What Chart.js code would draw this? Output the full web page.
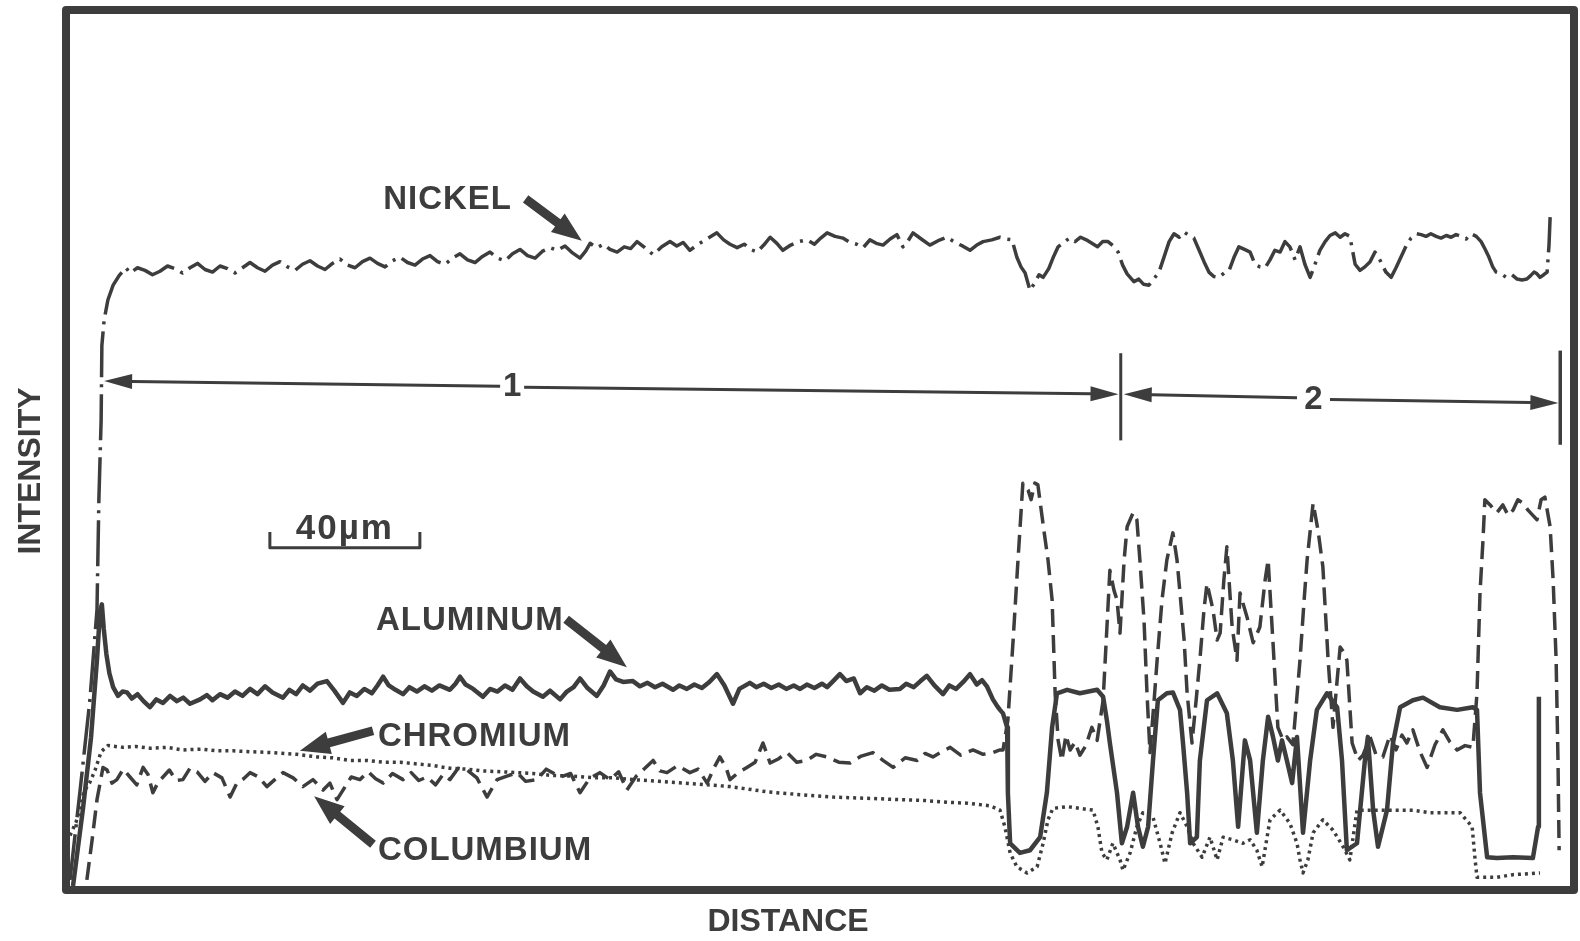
<!DOCTYPE html>
<html>
<head>
<meta charset="utf-8">
<script src="https://cdn.jsdelivr.net/npm/chart.js@4/dist/chart.umd.min.js"></script>
<style>
  html, body { margin: 0; padding: 0; background: #ffffff; }
  #wrap { width: 1580px; height: 941px; }
</style>
</head>
<body>
<div id="wrap"><canvas id="c" width="1580" height="941"></canvas></div>
<script>
// Electron-microprobe line scan across the coating: distance in µm, intensity in relative units.

const nickelX = [0, 2.7, 5.3, 7.2, 7.7, 8.3, 8.5, 9.1, 10.1, 11.5, 13.1, 14.9,
  16, 18, 20, 22, 24, 26, 28, 30, 32, 34, 36, 38, 40, 42, 44, 46, 48, 50, 52, 54, 56, 58, 60,
  62, 64, 66, 68, 70, 72, 74, 76, 78, 80, 82, 84, 86, 88, 90, 92, 94, 96, 98, 100,
  102, 104, 106, 108, 110, 112, 114, 116, 118, 120, 122, 124, 126, 128,
  129.9, 132, 134, 136, 137.5, 138.7, 140.5, 142.3, 144, 145.9, 147.8, 149.5, 151.2, 153.3, 155.5,
  157.8, 160, 161.8, 163.5, 165.3, 167.5, 169.8, 172.5, 174.3, 176, 177.9, 179.8, 181.5, 183.2,
  185, 186.7, 188.5, 190.1, 192.2, 194.3, 196.5, 198.5, 200.2, 201.9, 204, 206.1, 208, 209.8,
  211.5, 213.3, 215, 216.8, 218.7, 220.5, 222.1, 223.5, 224.8, 227, 229.3, 231.5, 233.9, 236,
  238, 240, 241.8, 243.5, 245.8, 248, 249.6, 251.2, 252.5, 253.6, 254.7, 256, 257.3, 258.4,
  259.5, 261, 262.3, 263.5, 265, 266.5, 268, 269.5, 271, 272.5, 274, 275.4, 276.8, 278.2,
  279.5, 280.7, 281.9, 283.7, 285, 286.3, 287.7, 289, 290.4, 291.8, 293.1, 294.4, 295.8,
  297.1, 298.4, 299.7, 301.1, 302.4, 303.7, 305, 306.4, 307.8, 309.1, 310.4, 311.7, 313.2,
  314.7, 316, 317.3, 318.7, 320, 321.3, 322.7, 324, 325.3, 326.7, 328, 329.3, 330.7, 332,
  333.3, 334.7, 336, 337.4, 338.7, 340, 341.3, 342.7, 344, 345.3, 346.7, 348, 349.3, 350.9,
  352.3, 353.6, 354.9, 356.3, 357.6, 359, 360.3, 361.6, 362.9, 364.3, 365.6, 367, 368.3,
  369.6, 370.9, 372.3, 373.6, 375, 376.3, 377.4, 378.4, 379.4, 380.3, 381.6, 383, 384.5,
  385.9, 387.2, 388.5, 389.5, 390.4, 391.2, 392, 393, 393.9, 394.4, 394.7];
const nickelY = [0.7, 11.0, 21.3, 31.7, 44.3, 53.4, 62.0, 64.9, 67.2, 68.9, 70.0, 70.9,
  70.3, 70.9, 70.6, 70.1, 70.5, 71.1, 70.8, 70.3, 70.9, 71.4, 70.7, 70.4, 71.1, 70.8, 70.3, 70.9, 71.5, 70.9, 70.5, 71.2, 71.6, 71.0, 70.6,
  71.3, 71.7, 71.1, 70.7, 71.4, 71.9, 71.2, 70.9, 71.6, 72.0, 71.4, 71.0, 71.7, 72.1, 71.5, 71.2, 71.9, 72.3, 71.6, 71.3,
  72.0, 72.5, 71.8, 71.5, 72.2, 72.7, 72.0, 71.7, 72.5, 73.0, 72.3, 72.0, 72.8, 73.2,
  72.9, 73.4, 72.6, 72.0, 72.8, 73.7, 73.2, 73.6, 73.0, 72.7, 73.3, 73.1, 73.9, 73.2, 72.4,
  73.3, 73.9, 73.4, 73.8, 72.9, 73.6, 74.2, 74.9, 74.1, 73.6, 73.2, 73.6, 73.0, 72.7,
  73.5, 74.4, 73.7, 72.9, 73.5, 73.9, 74.1, 73.6, 74.3, 74.9, 74.5, 74.3, 73.8, 73.6,
  73.2, 74.1, 73.7, 73.5, 74.2, 74.7, 73.3, 74.0, 74.9, 74.2, 73.5, 74.0, 74.4, 73.8,
  73.4, 72.9, 73.5, 73.9, 74.1, 74.4, 74.2, 74.1, 72.1, 71.0, 70.3, 68.3, 69.2, 70.1,
  69.8, 70.8, 72.2, 73.3, 73.8, 74.3, 73.9, 74.4, 74.1, 73.7, 73.3, 73.9, 73.9, 73.4,
  72.7, 71.2, 70.2, 69.3, 69.6, 69.0, 68.9, 69.6, 70.4, 72.2, 73.9, 74.8, 74.4,
  75.0, 74.6, 74.3, 72.9, 71.6, 70.4, 69.9, 69.8, 70.3, 70.6, 72.1, 73.3, 73.0,
  72.7, 71.3, 71.0, 70.9, 71.8, 72.9, 72.7, 73.9, 73.3, 71.8, 73.3, 71.3, 69.8, 71.3,
  72.9, 73.9, 74.6, 74.9, 74.4, 74.8, 74.5, 71.3, 70.6, 71.0, 71.6, 72.7, 71.8, 70.4,
  69.8, 70.9, 72.1, 73.4, 74.3, 74.8, 74.7, 74.5, 74.8, 74.5, 74.3, 74.6, 74.4,
  74.7, 74.5, 74.2, 74.8, 74.5, 73.9, 73.0, 72.1, 71.0, 70.4, 70.2, 69.8, 70.1,
  69.6, 69.5, 69.6, 70.0, 70.4, 70.2, 69.8, 70.1, 70.4, 73.5, 76.7];

const aluminumX = [0.8, 3.5, 5.6, 7.2, 8.0, 8.5, 9.0, 9.7, 10.5, 11.5, 12.8,
  14, 15.2, 16.5, 18, 19.6, 21.3, 23, 24.8, 26.7, 28.5, 30.2, 32, 34.7, 36.5, 38, 40, 42, 44, 46,
  48, 50, 52, 54, 56.8, 58.5, 60.3, 62.1, 64, 66, 68.5, 70.5, 72.8, 74.6, 76.5, 78.5, 80.5, 82,
  83.5, 85, 86.8, 88.8, 90.5, 92.5, 94.5, 96.5, 98.5, 101.3, 102.8, 104, 105.5, 107.5, 110.1,
  112, 114, 116, 118, 120, 121.8, 123.5, 126.1, 128, 130.7, 132.5, 134.3, 136, 138, 140.5,
  142.3, 144, 145.6, 147.5, 150.1, 152, 154, 156, 158, 160.8, 162.5, 164.5, 166.5, 168.5,
  170.5, 172.5, 174.5, 176.8, 178.5, 181.3, 183, 185, 187, 189, 191, 193, 194.7, 196.5,
  198.5, 200.5, 201.9, 203.5, 205.3, 207, 209, 210.7, 212.5, 214.5, 216.5, 218.5, 221.3,
  223, 225, 226.8, 228.5, 230.5, 232.8, 234.5, 236.3, 238.2, 240, 241.8, 243.2, 244.5,
  246.1, 247.3, 248, 248.8, 249.9, 250.1, 250.7, 253.3, 256, 258.7, 260.5, 261.9, 263.2,
  265.9, 269.3, 273.9, 275.5, 276.5, 277.3, 279.2, 280.5, 281.9, 283.5, 284.8, 286.1, 287.5,
  288.8, 290.1, 292.5, 294.1, 296, 296.8, 297.9, 298.7, 300.5, 301.3, 303.2, 305.9, 308.5,
  310.1, 311.5, 313.3, 314.7, 316.5, 318.1, 319.5, 320.8, 322.1, 323.2, 324.5, 325.9, 327.2,
  328.8, 330.7, 332.5, 335.2, 337.9, 339.2, 340.5, 343.2, 345.3, 346.1, 347.5, 348.8, 351.2,
  352.8, 354.7, 358.1, 360.8, 365.3, 369.9, 374.1, 375.2, 376, 377.9, 380.5, 384.8, 390.1,
  391.5, 391.7];
const aluminumY = [0, 9, 17, 26, 31.5, 32.3, 29.5, 26.6, 24.4, 22.8, 21.8,
  22.3, 22.2, 21.5, 22.0, 21.2, 20.5, 21.4, 21.0, 21.8, 21.2, 21.6, 20.9, 21.4, 21.9, 21.3, 22.0, 21.6, 22.3, 21.8,
  22.6, 22.0, 22.9, 22.2, 21.6, 22.5, 22.0, 23.0, 22.4, 23.2, 23.5, 22.4, 21.0, 22.2, 21.8, 22.6, 22.1, 23.0,
  24.0, 23.0, 22.5, 22.0, 22.8, 22.3, 22.9, 22.4, 23.0, 22.5, 23.2, 24.0, 23.1, 22.6, 21.7,
  22.6, 22.3, 23.0, 22.5, 23.8, 22.9, 22.3, 21.7, 22.4, 21.4, 22.3, 22.8, 23.8, 22.7, 21.8,
  23.0, 24.6, 23.7, 23.4, 23.5, 22.9, 23.3, 22.8, 23.2, 22.5, 23.0, 22.6, 23.1, 22.7,
  23.4, 24.3, 23.0, 20.9, 22.6, 23.3, 22.8, 23.2, 22.7, 23.1, 22.6, 23.0, 22.6, 23.1,
  22.7, 23.2, 22.8, 23.5, 24.3, 23.5, 23.8, 22.1, 22.8, 22.4, 23.0, 22.5, 22.6,
  23.2, 22.8, 23.5, 24.1, 23.0, 22.0, 23.0, 22.6, 23.4, 24.3, 23.1, 23.6, 22.9,
  21.4, 20.6, 20.2, 19.8, 18.2, 10.7, 4.9, 3.8, 4.1, 5.6, 10.7, 18.2, 22.1,
  22.5, 22.1, 22.5, 21.7, 19.0, 16.4, 10.7, 4.9, 6.8, 10.7, 6.8, 4.5, 6.8,
  14.4, 21.3, 22.1, 22.2, 20.2, 16.4, 10.7, 4.9, 5.6, 14.4, 21.3, 22.1, 19.8,
  14.4, 6.8, 16.7, 14.4, 6.1, 14.4, 19.4, 17.1, 14.4, 16.7, 14.4, 11.8, 17.1,
  6.1, 14.4, 20.2, 22.1, 20.5, 14.4, 4.1, 4.9, 14.4, 17.1, 8.7, 4.5, 8.7,
  16.4, 20.5, 21.3, 21.6, 20.5, 20.2, 20.5, 20.2, 10.7, 3.3, 3.2, 3.3, 3.2,
  6.8, 21.7];

const chromiumX = [0, 1.6, 2.7, 3.7, 5.3, 6.7, 8.3, 10.1, 14.1, 17.5, 21.3, 25.8, 30.1, 35, 39.2,
  43.5, 48, 54, 60.5, 65.9, 70, 74.7, 79, 83.5, 88, 92.5, 97, 101.3, 106, 110.1, 115, 119.2,
  123.5, 128, 134, 140, 145, 150.1, 157, 164, 170, 176, 181, 185.9, 191, 197, 203.5, 210,
  216, 221.3, 228, 234, 239.2, 245.3, 248, 249.3, 250.7, 252.5, 255.2, 257.9, 259.5, 260.8,
  262.1, 265.9, 272.8, 274.1, 275.2, 276.5, 278.1, 280, 280.8, 282.7, 284.5, 286.1, 288.8,
  290.7, 292, 293.9, 296, 297.9, 299.5, 301.9, 304, 305.9, 307.5, 310.1, 312.8, 314.7, 316.5,
  317.9, 320, 322.7, 325.3, 327.2, 328, 328.8, 330.1, 331.5, 334.1, 336.8, 339.5, 341.3,
  343.2, 352, 358.1, 362.7, 370.7, 373.9, 374.7, 375.2, 380.5, 384.8, 392];
const chromiumY = [5.8, 7.3, 8.9, 10.8, 11.9, 13.3, 15.4, 16.1, 15.9, 16.0, 15.8, 15.9, 15.6, 15.7, 15.5,
  15.5, 15.4, 15.3, 15.1, 14.8, 14.7, 14.4, 14.4, 14.2, 14.2, 14.0, 13.8, 13.5, 13.4, 13.2, 13.1, 13.0,
  12.9, 12.7, 12.6, 12.4, 12.4, 12.2, 12.0, 11.8, 11.6, 11.4, 11.1, 10.8, 10.6, 10.4, 10.2, 10.1,
  10.0, 9.9, 9.8, 9.6, 9.5, 9.2, 8.7, 6.8, 3.8, 2.2, 1.5, 2.2, 4.9, 7.6,
  8.9, 9.1, 8.7, 6.8, 3.8, 3.0, 4.9, 3.0, 1.8, 3.8, 6.8, 8.4, 7.9,
  4.9, 2.6, 6.1, 8.4, 6.8, 4.9, 3.3, 5.6, 3.0, 5.6, 5.3, 4.9, 5.3, 4.1,
  2.2, 7.6, 8.7, 7.2, 4.9, 3.0, 1.5, 3.0, 6.1, 7.6, 6.4, 4.5, 3.0,
  8.7, 8.7, 8.7, 8.4, 8.4, 6.8, 3.0, 1.0, 1.0, 1.3, 1.5];

const columbiumX = [4.5, 5.9, 7.2, 8.8, 9.9, 11.2, 12.5, 14.2, 16, 17.8, 19.5, 20.8, 22.1, 23.5,
  24.8, 26.5, 28.3, 30.1, 32, 33.9, 36, 38.1, 40.5, 42.7, 44.5, 46.3, 48, 50.3, 52.5, 54.6,
  56.8, 59.5, 62.1, 64.8, 67.5, 69.3, 71.2, 72.8, 75, 77.3, 79.5, 81.5, 83.5, 86, 88.8, 91,
  93, 95.2, 97.5, 99.5, 101.3, 103.5, 105.9, 108.5, 111.2, 113.9, 116.5, 119.2, 121.5, 124.5,
  127, 130.7, 133.5, 136, 138.5, 141.3, 144, 146.3, 148.5, 151, 153.3, 155.5, 157.3, 159.2,
  162, 165.3, 167.5, 169.9, 171.8, 173.3, 175, 176, 178.2, 180.5, 182.7, 184.8, 186.7, 189,
  191.2, 193.8, 196.5, 199, 201.9, 205, 208, 211, 214.1, 216.8, 219.5, 222.7, 225.9, 228,
  230.1, 232.5, 234.7, 237.5, 240.8, 243.5, 246.1, 248, 248.8, 250.1, 251.5, 252.8, 254.1,
  255.5, 256.3, 257.3, 258.1, 259.7, 260.8, 261.9, 262.7, 263.5, 264.5, 265.6, 266.7, 268,
  269.3, 270.9, 272.5, 273.9, 275.5, 277.3, 278.4, 279.2, 280, 281.1, 281.9, 283.5, 284.5,
  285.3, 286.4, 287.2, 288, 289.1, 289.9, 291.2, 292.5, 294.1, 295.2, 296, 297.1, 297.9,
  299.2, 300.3, 301.3, 302.4, 303.2, 304.8, 305.9, 306.7, 307.7, 308.5, 309.9, 311.2, 312,
  313.9, 315.5, 317.3, 318.7, 319.5, 320.8, 322.1, 323.5, 324.5, 326.1, 328, 329.1, 329.9,
  331.5, 332.8, 334.1, 334.9, 335.5, 336.8, 337.9, 338.7, 339.7, 340.5, 341.9, 343.5, 344.8,
  346.7, 348.3, 350.1, 352, 353.6, 355.2, 356.5, 358.1, 360, 361.9, 364, 366.1, 368, 369.9,
  372, 374.1, 375.2, 376, 376.8, 377.3, 378.7, 380.5, 382.1, 383.5, 384.8, 386.1, 387.5,
  388.8, 390.1, 391.2, 392.3, 393.3, 394.7, 395.5, 396.3, 396.8, 397.1];
const columbiumY = [0.7, 5.3, 9.9, 13.6, 13.3, 11.8, 12.2, 13.4, 12.5, 11.6, 13.6, 12.8, 10.7, 11.9,
  12.5, 13.3, 12.1, 12.2, 13.5, 13.1, 12.0, 13.0, 12.4, 10.2, 11.8, 12.3, 13.0, 12.5, 11.4, 12.2,
  13.0, 12.4, 11.4, 12.2, 11.0, 11.8, 9.9, 11.0, 12.5, 12.2, 13.1, 12.3, 11.8, 12.9, 12.2, 13.0,
  12.1, 12.5, 11.6, 12.8, 12.2, 13.5, 13.3, 12.4, 10.2, 12.2, 12.6, 13.0, 12.0, 12.2,
  13.4, 12.5, 12.9, 10.7, 12.3, 13.0, 12.2, 13.1, 11.0, 12.6, 13.5, 14.4, 13.2, 13.0,
  13.8, 13.0, 13.4, 11.8, 13.6, 14.8, 13.5, 12.2, 13.0, 13.6, 14.2, 16.4, 14.1, 14.6,
  15.3, 14.2, 14.4, 15.1, 14.8, 14.2, 14.1, 14.9, 15.3, 14.4, 13.6, 14.7, 14.4, 15.2,
  14.8, 15.4, 15.9, 15.0, 15.6, 15.1, 15.3, 15.6, 15.6, 19.0, 28.2, 37.4, 46.2,
  45.4, 44.3, 46.2, 46.0, 40.8, 37.4, 32.8, 22.1, 16.7, 14.4, 17.3, 15.6, 16.5,
  15.0, 16.1, 18.2, 16.7, 21.3, 36.2, 33.9, 32.8, 29.0, 37.4, 41.2, 42.8, 42.0,
  37.4, 30.5, 22.1, 15.3, 21.3, 25.9, 32.8, 37.4, 40.5, 37.4, 33.6, 28.2, 22.1,
  16.4, 21.3, 25.9, 31.7, 34.7, 31.7, 28.2, 29.0, 35.1, 38.9, 29.7, 25.9, 33.6,
  30.8, 27.9, 29.7, 35.1, 37.4, 27.9, 18.2, 16.7, 17.1, 16.2, 25.9, 32.8, 37.4,
  43.9, 40.8, 36.6, 30.5, 25.9, 18.2, 23.6, 27.4, 26.8, 25.9, 16.4, 14.4, 15.0,
  17.1, 15.0, 14.8, 17.3, 15.6, 17.3, 16.4, 17.9, 15.4, 13.6, 16.2, 17.9, 16.5, 15.6,
  16.1, 15.9, 22.1, 33.6, 39.7, 44.3, 43.7, 42.8, 43.7, 42.5, 43.1, 44.3, 43.9,
  43.1, 42.5, 42.0, 44.3, 44.6, 41.2, 35.1, 25.9, 14.4, 4.1];

// Axis extents: 0-400 µm across, 0-100 relative intensity
const distanceRange = [0, 400];
const intensityRange = [0, 100];

// Scale bar length (µm), the two zone labels and the element names
const scaleBarLength = 40;
const zoneLabels = ['1', '2'];
const elementNames = ['NICKEL', 'ALUMINUM', 'CHROMIUM', 'COLUMBIUM'];

const INK = '#3d3d3d';
const FONT = '"Liberation Sans", Arial, Helvetica, sans-serif';

function pts(xs, ys) { return xs.map((x, i) => ({ x: x, y: ys[i] })); }

function arrow(ctx, x1, y1, x2, y2, shaft, headLen, headW) {
  const a = Math.atan2(y2 - y1, x2 - x1);
  const len = Math.hypot(x2 - x1, y2 - y1);
  ctx.save();
  ctx.translate(x1, y1);
  ctx.rotate(a);
  ctx.beginPath();
  ctx.moveTo(0, -shaft / 2);
  ctx.lineTo(len - headLen, -shaft / 2);
  ctx.lineTo(len - headLen, -headW / 2);
  ctx.lineTo(len, 0);
  ctx.lineTo(len - headLen, headW / 2);
  ctx.lineTo(len - headLen, shaft / 2);
  ctx.lineTo(0, shaft / 2);
  ctx.closePath();
  ctx.fill();
  ctx.restore();
}

// Frame, element labels with pointer arrows, zone dimension lines, scale bar, axis titles
const decorations = {
  id: 'decorations',
  afterDatasetsDraw(chart) {
    const ctx = chart.ctx;
    const xs = chart.scales.x, ys = chart.scales.y;
    const px = v => xs.getPixelForValue(v);
    const py = v => ys.getPixelForValue(v);
    const area = chart.chartArea;

    ctx.save();
    ctx.fillStyle = INK;
    ctx.strokeStyle = INK;

    // heavy frame around the plot
    ctx.lineWidth = 8;
    ctx.lineJoin = 'round';
    ctx.strokeRect(area.left - 4, area.top - 4, area.right - area.left + 8, area.bottom - area.top + 8);

    // element labels
    ctx.font = 'bold 33px ' + FONT;
    ctx.textAlign = 'left';
    ctx.textBaseline = 'alphabetic';
    ctx.letterSpacing = '1px';
    const labelPos = [[83.5, 77.6], [81.6, 29.4], [82.1, 16.1], [82.1, 3.0]];
    elementNames.forEach((n, i) => ctx.fillText(n, px(labelPos[i][0]), py(labelPos[i][1])));
    ctx.letterSpacing = '0px';

    // pointer arrows from labels to traces
    const pointers = [
      [121.5, 78.8, 136.5, 74.0],
      [132.3, 30.6, 148.5, 25.1],
      [80.8, 17.8, 61.3, 15.5],
      [80.8, 4.8, 65.1, 10.3]
    ];
    pointers.forEach(p => arrow(ctx, px(p[0]), py(p[1]), px(p[2]), py(p[3]), 9, 30, 23));

    // zone 1 dimension line
    ctx.lineWidth = 3;
    ctx.lineCap = 'butt';
    const seg = (a, b, c, d) => { ctx.beginPath(); ctx.moveTo(px(a), py(b)); ctx.lineTo(px(c), py(d)); ctx.stroke(); };
    arrow(ctx, px(114.7), py(57.3), px(9.1), py(57.9), 3, 28, 15);
    arrow(ctx, px(121.1), py(57.2), px(279.6), py(56.4), 3, 28, 15);
    // boundary between zones
    seg(280.2, 61.1, 280.2, 51.1);
    // zone 2 dimension line
    arrow(ctx, px(327.2), py(56.0), px(281.0), py(56.4), 3, 28, 15);
    arrow(ctx, px(336.0), py(55.8), px(396.9), py(55.4), 3, 28, 15);
    ctx.lineWidth = 3.5;
    seg(397.4, 61.4, 397.4, 50.6);

    ctx.font = 'bold 33px ' + FONT;
    ctx.textAlign = 'center';
    ctx.textBaseline = 'middle';
    ctx.fillText(zoneLabels[0], px(117.9), py(57.2));
    ctx.fillText(zoneLabels[1], px(331.6), py(55.8));

    // 40 µm scale bar
    const sb0 = 53.3, sb1 = sb0 + scaleBarLength;
    ctx.lineWidth = 3;
    ctx.beginPath();
    ctx.moveTo(px(sb0), py(40.6));
    ctx.lineTo(px(sb0), py(38.8));
    ctx.lineTo(px(sb1), py(38.8));
    ctx.lineTo(px(sb1), py(40.6));
    ctx.stroke();
    ctx.font = 'bold 35px ' + FONT;
    ctx.textBaseline = 'alphabetic';
    ctx.letterSpacing = '2px';
    ctx.fillText(scaleBarLength + 'µm', px((sb0 + sb1) / 2), py(39.8));
    ctx.letterSpacing = '0px';

    // axis titles
    ctx.font = 'bold 32px ' + FONT;
    ctx.textAlign = 'center';
    ctx.textBaseline = 'middle';
    ctx.fillText('DISTANCE', 788, 922);
    ctx.save();
    ctx.translate(31, 471);
    ctx.rotate(-Math.PI / 2);
    ctx.fillText('INTENSITY', 0, 0);
    ctx.restore();

    ctx.restore();
  }
};

const common = { pointRadius: 0, tension: 0, fill: false, borderColor: INK, borderJoinStyle: 'round' };

new Chart(document.getElementById('c'), {
  type: 'line',
  data: {
    datasets: [
      Object.assign({ label: 'Nickel', data: pts(nickelX, nickelY), borderWidth: 3.5, borderDash: [46, 7, 3, 7] }, common),
      Object.assign({ label: 'Aluminum', data: pts(aluminumX, aluminumY), borderWidth: 4.5 }, common),
      Object.assign({ label: 'Chromium', data: pts(chromiumX, chromiumY), borderWidth: 3.5, borderDash: [3, 4] }, common),
      Object.assign({ label: 'Columbium', data: pts(columbiumX, columbiumY), borderWidth: 3.5, borderDash: [18, 8] }, common)
    ]
  },
  options: {
    responsive: false,
    devicePixelRatio: 1,
    animation: false,
    layout: { padding: { left: 70, right: 10, top: 14, bottom: 55 } },
    scales: {
      x: { type: 'linear', min: distanceRange[0], max: distanceRange[1], display: false },
      y: { type: 'linear', min: intensityRange[0], max: intensityRange[1], display: false }
    },
    plugins: { legend: { display: false }, tooltip: { enabled: false } }
  },
  plugins: [decorations]
});
</script>
</body>
</html>
